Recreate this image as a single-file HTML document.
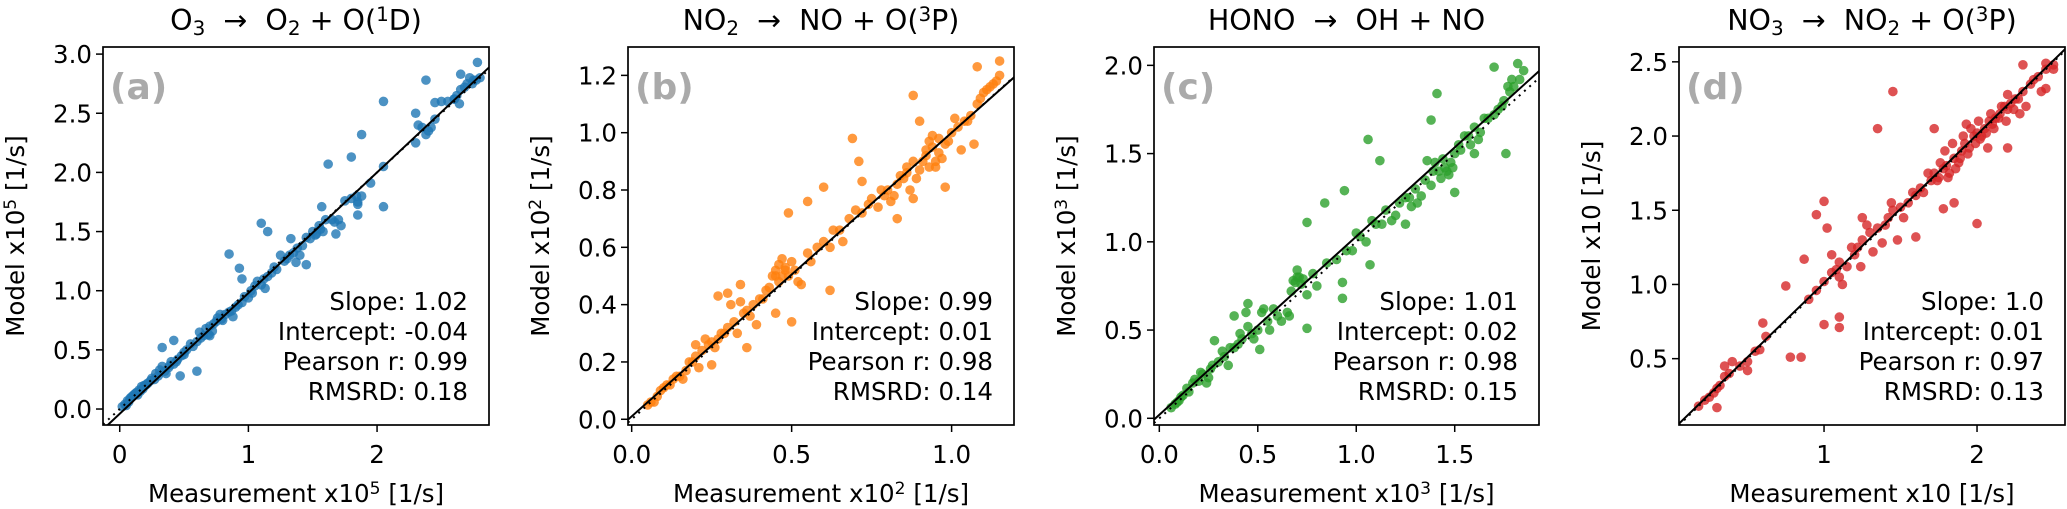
<!DOCTYPE html>
<html><head><meta charset="utf-8"><style>
html,body{margin:0;padding:0;background:#fff;}
svg{display:block;font-family:"DejaVu Sans","Liberation Sans",sans-serif;}
</style></head><body>
<svg id="fig" width="2067" height="509" viewBox="0 0 2067 509" xmlns="http://www.w3.org/2000/svg"></svg>
<script>
// ---- Panel (a) data: O3 -> O2 + O(1D), x1e5
const aX = [0.02,0.04,0.06,0.08,0.1,0.12,0.15,0.18,0.2,0.22,0.25,0.28,0.3,0.33,0.35,0.38,0.4,0.42,0.45,0.48,0.5,0.55,0.6,0.62,0.65,0.7,0.72,0.75,0.78,0.8,0.85,0.9,0.92,0.95,1.0,1.02,1.05,1.1,1.12,1.15,1.2,1.25,1.3,1.35,1.38,1.4,1.45,1.5,1.52,1.55,1.6,1.65,1.7,1.72,1.75,1.8,1.85,1.88,1.95,2.05,2.05,2.3,2.32,2.35,2.4,2.45,2.5,2.55,2.6,2.62,2.65,2.7,2.72,2.75,2.8,0.85,0.93,0.95,1.1,1.15,1.62,1.8,1.88,2.05,1.45,1.33,2.38,2.65,2.78,0.6,0.42,0.33,1.57,1.85,2.3,2.45,1.68,0.5,0.7,
 0.05,0.07,0.09,0.11,0.13,0.14,0.16,0.17,0.19,0.21,0.24,0.27,0.31,0.36,0.39,0.44,0.47,0.52,0.57,0.63,0.67,0.69,0.73,0.76,0.79,0.82,0.87,0.88,0.97,1.03,1.07,1.13,1.18,1.22,1.28,1.32,1.37,1.42,1.48,1.53,1.56,1.58,1.67,1.85,1.84,2.38,2.42,2.6,2.64,2.68,2.74,2.77];
const aY = [0.02,0.04,0.07,0.09,0.11,0.13,0.16,0.17,0.2,0.22,0.26,0.3,0.28,0.36,0.32,0.35,0.4,0.38,0.42,0.45,0.48,0.55,0.57,0.65,0.62,0.7,0.66,0.74,0.8,0.75,0.82,0.86,0.88,0.9,0.94,1.0,1.04,1.05,1.1,1.12,1.2,1.3,1.27,1.32,1.36,1.3,1.45,1.5,1.47,1.55,1.6,1.6,1.6,1.55,1.76,1.78,1.75,1.8,1.91,2.05,1.71,2.25,2.4,2.38,2.35,2.45,2.6,2.6,2.62,2.65,2.7,2.75,2.8,2.78,2.8,1.31,1.19,1.1,1.57,1.5,2.07,2.13,2.32,2.6,1.22,1.44,2.78,2.83,2.93,0.32,0.58,0.52,1.71,1.64,2.5,2.59,1.48,0.46,0.62,
 0.03,0.06,0.1,0.12,0.14,0.12,0.15,0.19,0.2,0.21,0.24,0.25,0.33,0.3,0.37,0.4,0.28,0.5,0.53,0.6,0.68,0.63,0.72,0.77,0.76,0.8,0.83,0.78,0.95,0.98,1.08,1.02,1.15,1.18,1.25,1.3,1.24,1.38,1.44,1.48,1.52,1.5,1.58,1.73,1.8,2.32,2.38,2.62,2.58,2.72,2.75,2.78];
// ---- Panel (b) data: NO2 -> NO + O(3P), x1e2
const bX = [0.05,0.06,0.08,0.09,0.1,0.12,0.13,0.15,0.17,0.18,0.2,0.22,0.24,0.25,0.27,0.28,0.3,0.32,0.33,0.35,0.36,0.38,0.4,0.42,0.44,0.45,0.46,0.47,0.48,0.5,0.52,0.55,0.58,0.6,0.62,0.65,0.68,0.7,0.72,0.75,0.78,0.8,0.82,0.84,0.85,0.86,0.88,0.9,0.92,0.93,0.94,0.95,0.96,0.98,1.0,1.02,1.04,1.06,1.08,1.1,1.12,1.14,1.15,0.69,0.88,0.9,0.6,0.55,0.49,0.71,0.72,1.08,1.15,0.62,0.5,0.36,0.25,0.77,0.83,0.98,1.07,1.03,0.45,0.3,0.27,0.2,0.34,0.47,0.88,0.94,
 0.07,0.11,0.14,0.16,0.19,0.21,0.23,0.26,0.29,0.31,0.34,0.37,0.39,0.41,0.43,0.45,0.46,0.48,0.49,0.51,0.53,0.56,0.63,0.66,0.74,0.79,0.81,0.83,0.86,0.87,0.89,0.91,0.92,0.93,0.95,0.96,0.97,0.99,1.01,1.05,1.09,1.11,1.13];
const bY = [0.05,0.06,0.08,0.1,0.11,0.12,0.14,0.15,0.17,0.2,0.22,0.24,0.26,0.27,0.28,0.3,0.32,0.34,0.3,0.37,0.38,0.4,0.42,0.45,0.5,0.52,0.54,0.5,0.52,0.55,0.48,0.58,0.6,0.62,0.6,0.66,0.7,0.73,0.72,0.77,0.8,0.8,0.78,0.85,0.84,0.88,0.9,0.87,0.92,0.88,0.95,0.9,0.98,0.96,1.0,1.02,1.04,1.06,1.1,1.14,1.16,1.18,1.2,0.98,1.13,1.04,0.81,0.76,0.72,0.9,0.83,1.23,1.25,0.45,0.34,0.25,0.19,0.74,0.7,0.81,0.96,0.94,0.37,0.44,0.43,0.26,0.47,0.56,0.77,0.99,
 0.06,0.12,0.15,0.14,0.2,0.18,0.28,0.25,0.3,0.4,0.41,0.36,0.33,0.42,0.46,0.5,0.48,0.53,0.5,0.52,0.47,0.55,0.66,0.62,0.75,0.78,0.76,0.82,0.86,0.8,0.84,0.9,0.94,0.97,0.88,0.93,0.91,0.97,1.05,1.04,1.12,1.15,1.17];
// ---- Panel (c) data: HONO -> OH + NO, x1e3
const cX = [0.06,0.08,0.1,0.12,0.15,0.17,0.2,0.22,0.25,0.27,0.3,0.33,0.35,0.38,0.4,0.42,0.45,0.47,0.5,0.52,0.55,0.58,0.6,0.65,0.67,0.68,0.7,0.72,0.75,0.78,0.8,0.85,0.9,0.95,1.0,1.05,1.08,1.1,1.15,1.2,1.22,1.25,1.28,1.3,1.33,1.35,1.38,1.4,1.42,1.45,1.47,1.5,1.52,1.55,1.58,1.6,1.63,1.65,1.7,1.72,1.75,1.78,1.8,1.85,1.06,0.84,0.75,0.94,1.41,1.38,1.7,1.82,1.12,1.07,0.75,0.51,0.93,0.93,1.76,1.5,0.38,0.45,0.28,1.25,1.6,
 0.09,0.11,0.14,0.18,0.21,0.24,0.26,0.32,0.36,0.41,0.44,0.48,0.53,0.56,0.62,0.66,0.69,0.7,0.71,0.73,0.98,1.02,1.13,1.18,1.27,1.31,1.36,1.39,1.43,1.44,1.46,1.48,1.49,1.53,1.57,1.62,1.67,1.74,1.77,1.79,1.83];
const cY = [0.06,0.08,0.1,0.13,0.15,0.2,0.21,0.25,0.23,0.3,0.32,0.35,0.3,0.4,0.42,0.45,0.52,0.48,0.5,0.6,0.55,0.62,0.58,0.6,0.72,0.78,0.8,0.76,0.7,0.82,0.75,0.88,0.9,0.95,1.05,1.0,1.12,1.1,1.18,1.15,1.22,1.25,1.2,1.3,1.26,1.35,1.32,1.45,1.4,1.42,1.38,1.5,1.55,1.6,1.55,1.65,1.62,1.7,1.72,1.75,1.8,1.85,1.88,1.97,1.58,1.22,1.11,1.29,1.84,1.69,1.99,2.01,1.46,0.87,0.51,0.39,0.68,0.77,1.5,1.28,0.58,0.65,0.44,1.1,1.5,
 0.09,0.12,0.17,0.22,0.26,0.2,0.28,0.38,0.4,0.48,0.6,0.45,0.62,0.5,0.55,0.58,0.77,0.84,0.8,0.79,0.95,1.03,1.1,1.12,1.25,1.22,1.46,1.4,1.36,1.47,1.4,1.45,1.42,1.52,1.6,1.58,1.7,1.77,1.88,1.92,1.92];
// ---- Panel (d) data: NO3 -> NO2 + O(3P), x10
const dX = [0.18,0.22,0.25,0.28,0.3,0.32,0.35,0.38,0.4,0.45,0.5,0.55,0.58,0.62,0.9,0.95,1.0,1.05,1.08,1.1,1.15,1.2,1.22,1.25,1.3,1.35,1.4,1.42,1.45,1.5,1.55,1.6,1.65,1.7,1.72,1.75,1.78,1.8,1.82,1.85,1.88,1.9,1.92,1.95,1.98,2.0,2.02,2.05,2.08,2.1,2.12,2.15,2.18,2.2,2.25,2.3,2.35,2.4,2.45,2.5,1.45,1.35,1.0,0.95,0.75,0.87,1.0,1.1,1.1,0.85,0.78,0.6,2.0,1.85,1.78,2.2,2.3,2.45,2.5,2.45,0.3,0.35,0.5,1.02,1.25,1.48,1.6,1.1,1.72,2.28,
 1.05,1.12,1.18,1.24,1.28,1.32,1.38,1.44,1.52,1.58,1.63,1.68,1.74,1.76,1.79,1.81,1.84,1.86,1.89,1.91,1.94,1.96,1.99,2.01,2.03,2.06,2.09,2.11,2.14,2.16,2.19,2.22,2.24,2.27,2.32,2.37,2.42,1.93,2.07,2.2];
const dY = [0.18,0.22,0.24,0.27,0.3,0.32,0.38,0.4,0.48,0.45,0.48,0.55,0.56,0.65,0.9,0.96,1.02,1.08,1.1,1.15,1.12,1.2,1.25,1.3,1.35,1.38,1.4,1.45,1.5,1.52,1.55,1.6,1.62,1.7,1.75,1.72,1.78,1.8,1.75,1.85,1.82,1.9,1.95,1.92,2.0,2.02,1.98,2.05,2.1,2.08,2.12,2.15,2.2,2.18,2.25,2.3,2.35,2.4,2.45,2.48,2.3,2.05,1.56,1.47,0.99,1.17,0.73,0.71,0.78,0.51,0.51,0.74,1.41,1.55,1.51,1.92,2.48,2.49,2.45,2.32,0.17,0.45,0.42,1.38,1.45,1.3,1.32,1.05,2.05,2.15,
 1.2,1.0,1.25,1.12,1.4,1.22,1.28,1.55,1.45,1.62,1.65,1.75,1.7,1.82,1.9,1.72,1.95,1.78,1.85,2.0,1.88,2.05,1.95,2.1,2.0,2.02,2.15,2.05,2.12,2.2,2.1,2.22,2.18,2.25,2.2,2.38,2.3,2.08,1.92,2.28];
// tick labels
const aXTicks = [0,1,2], aYTicks = [0.0,0.5,1.0,1.5,2.0,2.5,3.0];
const bXTicks = [0.0,0.5,1.0], bYTicks = [0.0,0.2,0.4,0.6,0.8,1.0,1.2];
const cXTicks = [0.0,0.5,1.0,1.5], cYTicks = [0.0,0.5,1.0,1.5,2.0];
const dXTicks = [1,2], dYTicks = [0.5,1.0,1.5,2.0,2.5];
const aFit = [1.02,-0.04], bFit = [0.99,0.01], cFit = [1.01,0.02], dFit = [1.0,0.01];
const aStats = ["Slope: 1.02","Intercept: -0.04","Pearson r: 0.99","RMSRD: 0.18"];
const bStats = ["Slope: 0.99","Intercept: 0.01","Pearson r: 0.98","RMSRD: 0.14"];
const cStats = ["Slope: 1.01","Intercept: 0.02","Pearson r: 0.98","RMSRD: 0.15"];
const dStats = ["Slope: 1.0","Intercept: 0.01","Pearson r: 0.97","RMSRD: 0.13"];

const NS="http://www.w3.org/2000/svg";
const svg=document.getElementById('fig');
function mk(tag,attrs,parent){const e=document.createElementNS(NS,tag);for(const k in attrs)e.setAttribute(k,attrs[k]);(parent||svg).appendChild(e);return e;}

const panels=[
 {id:'a',x0:103,x1:489,xd:[-0.13,2.87],yd:[-0.135,3.06],xs:aX,ys:aY,xt:aXTicks,yt:aYTicks,fmtX:0,fmtY:1,fit:aFit,stats:aStats,color:'#1f77b4',
  title:[['O',0],['3',-1],['  →  O',0],['2',-1],[' + O(',0],['1',1],['D)',0]],yl:[['Model x10',0],['5',1],[' [1/s]',0]],xl:[['Measurement x10',0],['5',1],[' [1/s]',0]]},
 {id:'b',x0:628,x1:1014,xd:[-0.0115,1.195],yd:[-0.02,1.299],xs:bX,ys:bY,xt:bXTicks,yt:bYTicks,fmtX:1,fmtY:1,fit:bFit,stats:bStats,color:'#ff7f0e',
  title:[['NO',0],['2',-1],['  →  NO + O(',0],['3',1],['P)',0]],yl:[['Model x10',0],['2',1],[' [1/s]',0]],xl:[['Measurement x10',0],['2',1],[' [1/s]',0]]},
 {id:'c',x0:1154,x1:1539,xd:[-0.027,1.928],yd:[-0.038,2.104],xs:cX,ys:cY,xt:cXTicks,yt:cYTicks,fmtX:1,fmtY:1,fit:cFit,stats:cStats,color:'#2ca02c',
  title:[['HONO  →  OH + NO',0]],yl:[['Model x10',0],['3',1],[' [1/s]',0]],xl:[['Measurement x10',0],['3',1],[' [1/s]',0]]},
 {id:'d',x0:1679,x1:2065,xd:[0.052,2.575],yd:[0.053,2.6],xs:dX,ys:dY,xt:dXTicks,yt:dYTicks,fmtX:0,fmtY:1,fit:dFit,stats:dStats,color:'#d62728',
  title:[['NO',0],['3',-1],['  →  NO',0],['2',-1],[' + O(',0],['3',1],['P)',0]],yl:[['Model x10 [1/s]',0]],xl:[['Measurement x10 [1/s]',0]]}
];
const Y0=47,Y1=425;
const FS=24.5;

function richText(g,parts,attrs,size){
  const t=mk('text',attrs,g);
  t.setAttribute('xml:space','preserve');
  t.style.whiteSpace='pre';
  parts.forEach(p=>{
    const ts=mk('tspan',{},t);
    ts.textContent=p[0];
    if(p[1]===-1){ts.setAttribute('baseline-shift','-25%');ts.setAttribute('font-size',size*0.7);}
    if(p[1]===1){ts.setAttribute('baseline-shift','45%');ts.setAttribute('font-size',size*0.7);}
  });
  return t;
}

panels.forEach(p=>{
  const g=mk('g',{});
  
  
  const sx=v=>p.x0+(v-p.xd[0])/(p.xd[1]-p.xd[0])*(p.x1-p.x0);
  const sy=v=>Y1-(v-p.yd[0])/(p.yd[1]-p.yd[0])*(Y1-Y0);
  const clip=mk('clipPath',{id:'clip'+p.id},g);
  mk('rect',{x:p.x0,y:Y0,width:p.x1-p.x0,height:Y1-Y0},clip);
  const pts=mk('g',{'clip-path':'url(#clip'+p.id+')'},g);
  
  
  for(let i=0;i<p.xs.length;i++){
    const c=mk('circle',{cx:sx(p.xs[i]),cy:sy(p.ys[i]),r:4.8,fill:p.color,'fill-opacity':0.8},pts);
    
    
  }
  const l1=mk('line',{x1:sx(p.xd[0]),y1:sy(p.xd[0]),x2:sx(p.xd[1]),y2:sy(p.xd[1]),stroke:'#000','stroke-width':2,'stroke-dasharray':'2 5','clip-path':'url(#clip'+p.id+')'},g);
  
  
  const f=v=>p.fit[0]*v+p.fit[1];
  const l2=mk('line',{x1:sx(p.xd[0]),y1:sy(f(p.xd[0])),x2:sx(p.xd[1]),y2:sy(f(p.xd[1])),stroke:'#000','stroke-width':2,'clip-path':'url(#clip'+p.id+')'},g);
  
  
  const fr=mk('rect',{x:p.x0,y:Y0,width:p.x1-p.x0,height:Y1-Y0,fill:'none',stroke:'#000','stroke-width':1.7},g);
  
  
  p.xt.forEach(v=>{
    const x=sx(v);
    mk('line',{x1:x,y1:Y1,x2:x,y2:Y1+7,stroke:'#000','stroke-width':1.5},g);
    const t=mk('text',{x:x,y:463,'text-anchor':'middle','font-size':FS},g);
    t.textContent=v.toFixed(p.fmtX);
    
    
  });
  p.yt.forEach(v=>{
    const y=sy(v);
    mk('line',{x1:p.x0-7,y1:y,x2:p.x0,y2:y,stroke:'#000','stroke-width':1.5},g);
    const t=mk('text',{x:p.x0-11,y:y+9,'text-anchor':'end','font-size':FS},g);
    t.textContent=v.toFixed(p.fmtY);
    
    
  });
  const cx=(p.x0+p.x1)/2;
  const tt=richText(g,p.title,{x:cx,y:30,'text-anchor':'middle','font-size':28.5},28.5);
  
  
  const xl=richText(g,p.xl,{x:cx,y:502,'text-anchor':'middle','font-size':FS},FS);
  
  
  const ylx=p.x0-79, yly=(Y0+Y1)/2;
  const yl=richText(g,p.yl,{x:ylx,y:yly,'text-anchor':'middle','font-size':FS,transform:'rotate(-90 '+ylx+' '+yly+')'},FS);
  
  
  const lab=mk('text',{x:p.x0+7,y:99,'font-size':36,'font-weight':'bold',fill:'#aaaaaa'},g);
  lab.textContent='('+p.id+')';
  
  
  p.stats.forEach((s,i)=>{
    const t=mk('text',{x:p.x1-21,y:310+i*30,'text-anchor':'end','font-size':FS},g);
    t.textContent=s;
    
    
  });
});
</script>
</body></html>
